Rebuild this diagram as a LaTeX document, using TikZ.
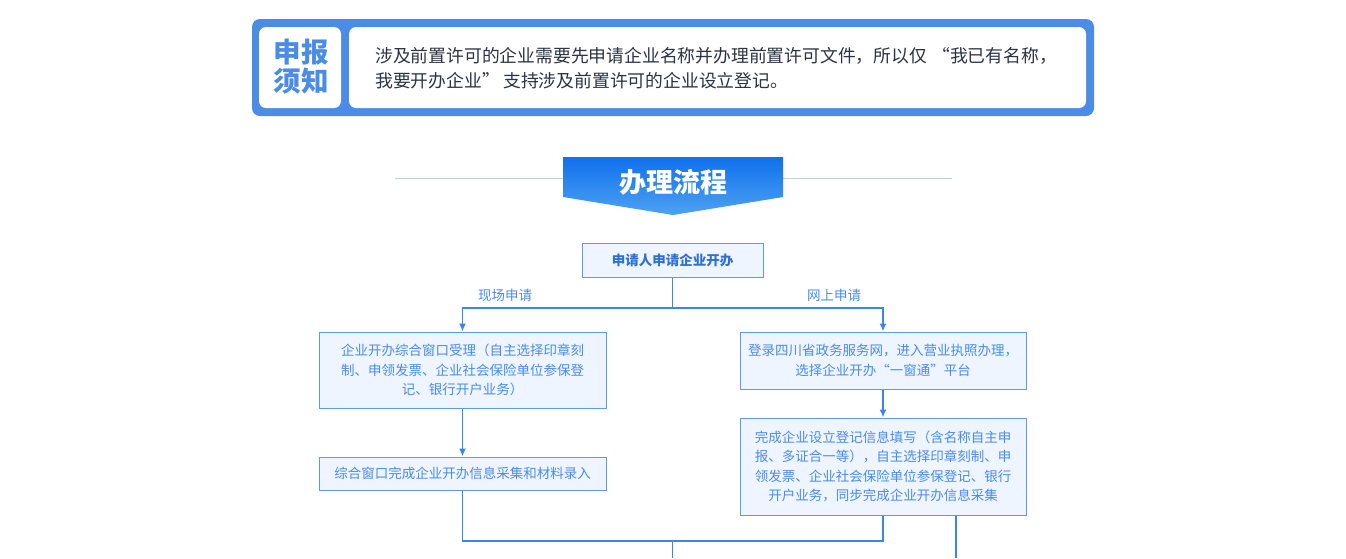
\documentclass[tikz,border=0pt]{standalone}
\usepackage{fontspec}
\setmainfont{Noto Sans CJK SC}
\usepackage{tikz}
\usetikzlibrary{shapes,arrows,arrows.meta}
\usepackage{xcolor}
\definecolor{azul}{HTML}{4A8CE6}
\definecolor{azulosc}{HTML}{2F70D2}
\definecolor{linea}{HTML}{3A86EA}
\definecolor{borde}{HTML}{5C9BEB}
\definecolor{fondo}{HTML}{EEF5FE}
\definecolor{gris}{HTML}{C3D1DD}
\definecolor{texto}{HTML}{2B3344}
\definecolor{bandaA}{HTML}{1170EC}
\definecolor{bandaB}{HTML}{4CA2F2}
\tikzset{
  caja/.style={draw=borde, fill=fondo, line width=1pt, inner sep=0pt, align=center,
    text=azul, font=\fontsize{13.5}{19.5}\selectfont},
  flecha/.style={-{Latex[length=8pt,width=7pt]}, draw=linea, line width=1.6pt},
  conector/.style={draw=linea, line width=1.6pt},
  etiqueta/.style={text=azul, font=\fontsize{13.5}{16}\selectfont}
}
\begin{document}
\begin{tikzpicture}[x=1pt,y=-1pt]
	\useasboundingbox (0,0) rectangle (1346,558);
	% aviso
	\fill[azul, rounded corners=8pt] (252,19) rectangle (1094,116);
	\fill[white, rounded corners=7pt] (259,27) rectangle (341,108);
	\fill[white, rounded corners=7pt] (349,27) rectangle (1086,108);
	\node [align=center, text=azul, font=\bfseries\fontsize{27.5}{29}\selectfont] (aviso) at (301,67) {申报\\须知};
	\node [right, align=left, text=texto, inner sep=0pt, font=\fontsize{17.8}{25}\selectfont] (nota) at (375,68)
		{涉及前置许可的企业需要先申请企业名称并办理前置许可文件，所以仅\hspace{0.3em}“我已有名称，\\我要开办企业”\hspace{0.2em}支持涉及前置许可的企业设立登记。};
	% titulo
	\draw [gris, line width=1pt] (395,178) -- (952,178);
	\shade [top color=bandaA, bottom color=bandaB] (563,157) -- (783,157) -- (783,197) -- (673,215) -- (563,197) -- cycle;
	\node [text=white, font=\bfseries\fontsize{27}{29}\selectfont] (titulo) at (673,182) {办理流程};
	% nodos
	\node [caja, minimum width=181pt, minimum height=34pt, text=azulosc, font=\bfseries\fontsize{13.5}{16}\selectfont] (inicio) at (672.5,260) {申请人申请企业开办};
	\node [caja, minimum width=287pt, minimum height=76pt] (izq1) at (462.5,370)
		{企业开办综合窗口受理（自主选择印章刻\\制、申领发票、企业社会保险单位参保登\\记、银行开户业务）};
	\node [caja, minimum width=287pt, minimum height=33pt] (izq2) at (462.5,473.5) {综合窗口完成企业开办信息采集和材料录入};
	\node [caja, minimum width=286pt, minimum height=57pt] (der1) at (883,360.5)
		{登录四川省政务服务网，进入营业执照办理，\\选择企业开办“一窗通”平台};
	\node [caja, minimum width=286pt, minimum height=97pt] (der2) at (883,466.5)
		{完成企业设立登记信息填写（含名称自主申\\报、多证合一等），自主选择印章刻制、申\\领发票、企业社会保险单位参保登记、银行\\开户业务，同步完成企业开办信息采集};
	\node [etiqueta] (presencial) at (505,295) {现场申请};
	\node [etiqueta] (enlinea) at (834,295) {网上申请};
	% conectores
	\coordinate (bif) at (672.5,308);
	\coordinate (union) at (672.5,541);
	\coordinate (fin) at (672.5,558);
	\coordinate (salida) at (956,558);
	\draw [flecha] (inicio.south) -- (bif) -| (izq1.north);
	\draw [flecha] (bif) -| (der1.north);
	\draw [flecha] (izq1) -- (izq2);
	\draw [flecha] (der1) -- (der2);
	\draw [conector] (izq2.south) |- (union) -| (der2.south);
	\draw [conector] (union) -- (fin);
	\draw [conector] (der2.south -| salida) -- (salida);
\end{tikzpicture}
\end{document}
